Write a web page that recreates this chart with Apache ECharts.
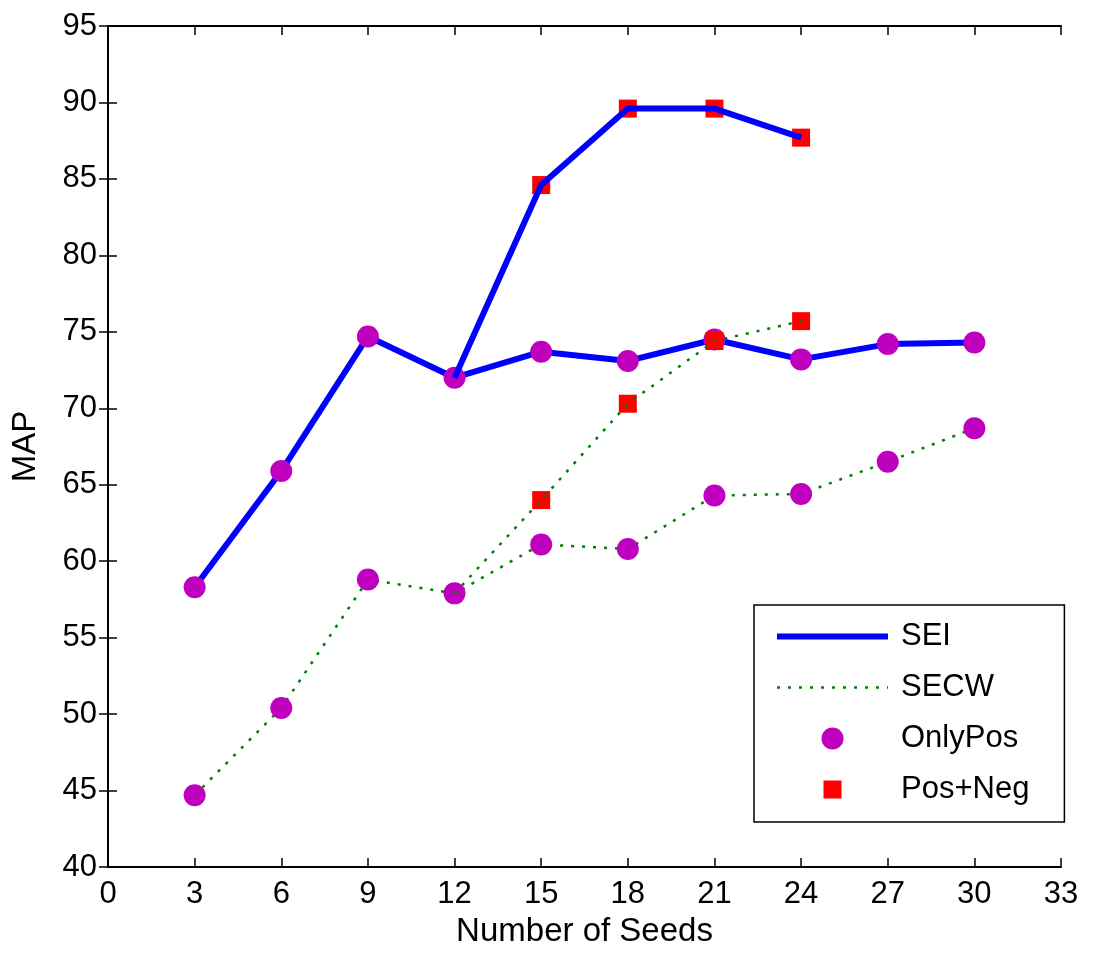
<!DOCTYPE html>
<html>
<head>
<meta charset="utf-8">
<script src="https://cdn.jsdelivr.net/npm/echarts@6/dist/echarts.min.js"></script>
<style>
  html, body { margin: 0; padding: 0; background: #fff; }
  #chart { width: 1094px; height: 953px; }
</style>
</head>
<body>
<div id="chart"></div>
<script>
// values
const seeds = [3, 6, 9, 12, 15, 18, 21, 24, 27, 30];
const seiOnlyPos = [58.3, 65.9, 74.7, 72.0, 73.7, 73.1, 74.5, 73.2, 74.2, 74.3];
const secwOnlyPos = [44.7, 50.4, 58.8, 57.9, 61.1, 60.8, 64.3, 64.4, 66.5, 68.7];

// Pos+Neg branches start from the 12-seed point
const posNegSeeds = [12, 15, 18, 21, 24];
const seiPosNeg = [72.0, 84.6, 89.6, 89.6, 87.7];
const secwPosNeg = [57.9, 64.0, 70.3, 74.4, 75.7];

const xTicks = { min: 0, max: 33, interval: 3 };
const yTicks = { min: 40, max: 95, interval: 5 };

const FONT = '"Liberation Sans", Arial, sans-serif';
const BLUE = '#0000ff';
const GREEN = '#008000';
const MAGENTA = '#bf00bf';
const RED = '#ff0000';

const seiLine = { color: BLUE, width: 6 };
const secwLine = { color: GREEN, width: 2.5, type: [3, 8] };

const pairs = (xs, ys) => xs.map((x, i) => [x, ys[i]]);
// squares are only drawn where Pos+Neg differs (from 15 on)
const squares = (ys) => pairs(posNegSeeds, ys).slice(1);

const chart = echarts.init(document.getElementById('chart'));

const axisLine = { show: true, lineStyle: { color: '#000', width: 2 } };
const axisTick = { show: true, inside: true, length: 9, lineStyle: { color: '#000', width: 1.5 } };

chart.setOption({
  backgroundColor: '#fff',
  animation: false,
  grid: { left: 108, right: 33, top: 26, bottom: 81 },
  xAxis: [
    {
      type: 'value',
      ...xTicks,
      name: 'Number of Seeds',
      nameLocation: 'middle',
      nameGap: 44,
      nameTextStyle: { color: '#000', fontSize: 33, fontFamily: FONT },
      axisLine,
      axisTick,
      splitLine: { show: false },
      axisLabel: { color: '#000', fontSize: 31, fontFamily: FONT, margin: 12 },
    },
    {
      type: 'value',
      position: 'top',
      ...xTicks,
      axisLine,
      axisTick,
      splitLine: { show: false },
      axisLabel: { show: false },
    },
  ],
  yAxis: [
    {
      type: 'value',
      ...yTicks,
      name: 'MAP',
      nameLocation: 'middle',
      nameGap: 66,
      nameTextStyle: { color: '#000', fontSize: 33, fontFamily: FONT },
      axisLine,
      axisTick,
      splitLine: { show: false },
      axisLabel: { color: '#000', fontSize: 31, fontFamily: FONT, margin: 11 },
    },
    {
      type: 'value',
      position: 'right',
      ...yTicks,
      axisLine,
      axisTick,
      splitLine: { show: false },
      axisLabel: { show: false },
    },
  ],
  legend: {
    orient: 'vertical',
    left: 754,
    top: 605,
    padding: [16, 35, 17, 20],
    itemWidth: 111,
    itemHeight: 22,
    itemGap: 20,
    borderColor: '#000',
    borderWidth: 1.5,
    backgroundColor: '#fff',
    selectedMode: false,
    textStyle: { color: '#000', fontSize: 31, fontFamily: FONT, padding: [0, 0, 0, 8] },
    data: [
      { name: 'SEI', lineStyle: seiLine, itemStyle: { opacity: 0 } },
      { name: 'SECW', lineStyle: secwLine, itemStyle: { opacity: 0 } },
      { name: 'OnlyPos', icon: 'circle' },
      { name: 'Pos+Neg', icon: 'path://M0,0M22,22M2,2L20,2L20,20L2,20Z' },
    ],
  },
  series: [
    {
      name: 'SEI',
      type: 'line',
      z: 1,
      symbol: 'none',
      data: pairs(seeds, seiOnlyPos),
      lineStyle: seiLine,
      itemStyle: { color: BLUE },
    },
    {
      name: 'SECW',
      type: 'line',
      z: 1,
      symbol: 'none',
      data: pairs(seeds, secwOnlyPos),
      lineStyle: secwLine,
      itemStyle: { color: GREEN },
    },
    {
      name: 'OnlyPos',
      type: 'scatter',
      z: 2,
      symbol: 'circle',
      symbolSize: 22,
      data: pairs(seeds, seiOnlyPos).concat(pairs(seeds, secwOnlyPos)),
      itemStyle: { color: MAGENTA, opacity: 1 },
    },
    {
      name: 'Pos+Neg',
      type: 'scatter',
      z: 3,
      symbol: 'rect',
      symbolSize: 18,
      data: squares(seiPosNeg).concat(squares(secwPosNeg)),
      itemStyle: { color: RED, opacity: 1 },
    },
    {
      name: 'SEI',
      type: 'line',
      z: 4,
      symbol: 'none',
      data: pairs(posNegSeeds, seiPosNeg),
      lineStyle: seiLine,
      itemStyle: { color: BLUE },
    },
    {
      name: 'SECW',
      type: 'line',
      z: 4,
      symbol: 'none',
      data: pairs(posNegSeeds, secwPosNeg),
      lineStyle: secwLine,
      itemStyle: { color: GREEN },
    },
  ],
});
</script>
</body>
</html>
